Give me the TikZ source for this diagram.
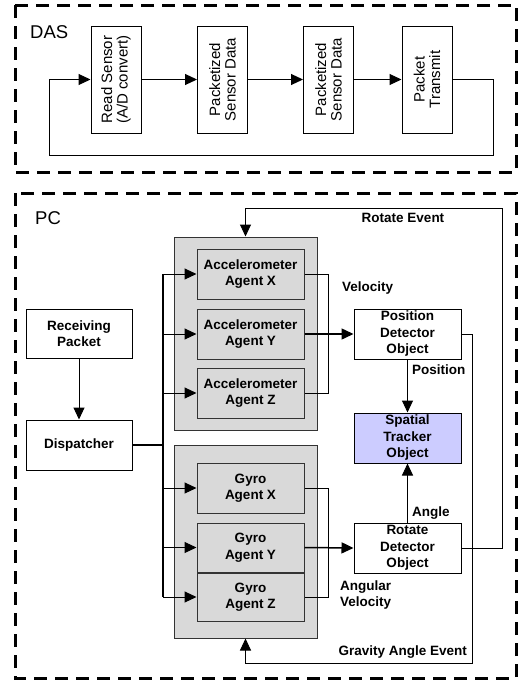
\documentclass[tikz,border=0pt]{standalone}
\usepackage{fontspec}
\setmainfont{Liberation Sans}
\usetikzlibrary{arrows.meta}
\definecolor{agentgray}{HTML}{D9D9D9}
\definecolor{lav}{HTML}{CCCCFF}
\definecolor{edgegray}{HTML}{333333}
\begin{document}
\begin{tikzpicture}[x=1pt,y=-1pt,
  frame/.style={draw, line width=3pt, dash pattern=on 13pt off 8pt},
  dasbox/.style={draw, line width=1pt, rotate=90, minimum width=107pt, minimum height=50pt, inner sep=0pt, align=center, font=\fontsize{15}{15.5}\selectfont},
  pcbox/.style={draw, line width=1pt, fill=white, minimum width=107pt, minimum height=50pt, inner sep=0pt, align=center, font=\fontsize{13.5}{16.5}\selectfont\bfseries},
  agent/.style={pcbox, fill=agentgray, draw=edgegray},
  group/.style={draw=edgegray, fill=agentgray, line width=1pt, minimum width=143pt, minimum height=193pt, inner sep=0pt},
  arr/.style={-{Triangle[length=12pt,width=11pt]}, line width=1pt},
  lbl/.style={font=\fontsize{13.5}{16.5}\selectfont\bfseries, inner sep=0pt, align=left},
  title/.style={font=\fontsize{18.5}{20}\selectfont, inner sep=0pt, anchor=west}
]
\useasboundingbox (0,0) rectangle (522,680);

% frames
\draw[frame] (15,5) rectangle (516,172);
\draw[frame] (15,193) rectangle (516,678);
\node[title] (dastitle) at (30,32) {DAS};
\node[title] (pctitle) at (35,218) {PC};

% DAS
\node[dasbox] (rs) at (116,79.5) {Read Sensor\\(A/D convert)};
\node[dasbox] (p1) at (222.5,79.5) {Packetized\\Sensor Data};
\node[dasbox] (p2) at (328.5,79.5) {Packetized\\Sensor Data};
\node[dasbox] (pt) at (427,79.5) {Packet\\Transmit};
\draw[arr] (rs.south) -- (p1.north);
\draw[arr] (p1.south) -- (p2.north);
\draw[arr] (p2.south) -- (pt.north);
\coordinate (loopR) at (493,155);
\coordinate (loopL) at (49,155);
\draw[arr] (pt.south) -| (loopR) -- (loopL) |- (rs.north);

% PC
\node[group] (accbox) at (245.5,333.5) {};
\node[group] (gyrobox) at (245.5,541.5) {};
\node[agent] (accX) at (250.5,274) {Accelerometer\\Agent X};
\node[agent] (accY) at (250.5,334) {Accelerometer\\Agent Y};
\node[agent] (accZ) at (250.5,393) {Accelerometer\\Agent Z};
\node[agent] (gyX) at (250.5,488) {Gyro\\Agent X};
\node[agent, minimum height=49pt] (gyY) at (250.5,547.5) {Gyro\\Agent Y};
\node[agent, minimum height=48pt] (gyZ) at (250.5,597) {Gyro\\Agent Z};

\node[pcbox, minimum width=106pt, minimum height=49pt] (recv) at (79,333.5) {Receiving\\Packet};
\node[pcbox, minimum width=106pt] (disp) at (79,445) {Dispatcher};
\node[pcbox] (pos) at (407.5,334) {Position\\Detector\\Object};
\node[pcbox, fill=lav] (spat) at (407.5,438) {Spatial\\Tracker\\Object};
\node[pcbox] (rot) at (407.5,548) {Rotate\\Detector\\Object};

\draw[arr] (recv.south) -- (disp.north);

% dispatcher bus
\coordinate (bT) at (163,274);
\coordinate (bB) at (163,597);
\draw[line width=1.8pt] (disp.east) -- (disp.east -| bT);
\draw[line width=1.4pt] (bT) -- (bB);
\foreach \n in {accX,accY,accZ,gyX,gyY,gyZ}
  \draw[arr] (bT |- \n) -- (\n.west);

% accelerometer outputs
\coordinate (aR) at (328,274);
\draw[line width=1pt] (accX.east) -- (aR) -- (aR |- accZ) -- (accZ.east);
\draw[arr, line width=1.5pt] (accY.east) -- (pos.west);

% gyro outputs
\coordinate (gR) at (328,488);
\draw[line width=1pt] (gyX.east) -- (gR) -- (gR |- gyZ) -- (gyZ.east);
\draw[arr, line width=1.5pt] (gyY.east) -- (rot.west);

\draw[arr] (pos.south) -- (spat.north);
\draw[arr] (rot.north) -- (spat.south);

% events
\coordinate (reTop) at (502,208);
\draw[arr] (rot.east) -| (reTop) -| (accbox.north);
\coordinate (gaBot) at (472,663);
\draw[arr] (pos.east) -| (gaBot) -| (gyrobox.south);

% labels
\node[lbl] (lre) at (403,218) {Rotate Event};
\node[lbl, anchor=west] (lvel) at (342,288) {Velocity};
\node[lbl, anchor=west] (lpos) at (412,370) {Position};
\node[lbl, anchor=west] (lang) at (412,513) {Angle};
\node[lbl, anchor=west] (langv) at (340,595) {Angular\\Velocity};
\node[lbl, anchor=east] (lgrav) at (467,652) {Gravity Angle Event};
\end{tikzpicture}
\end{document}
